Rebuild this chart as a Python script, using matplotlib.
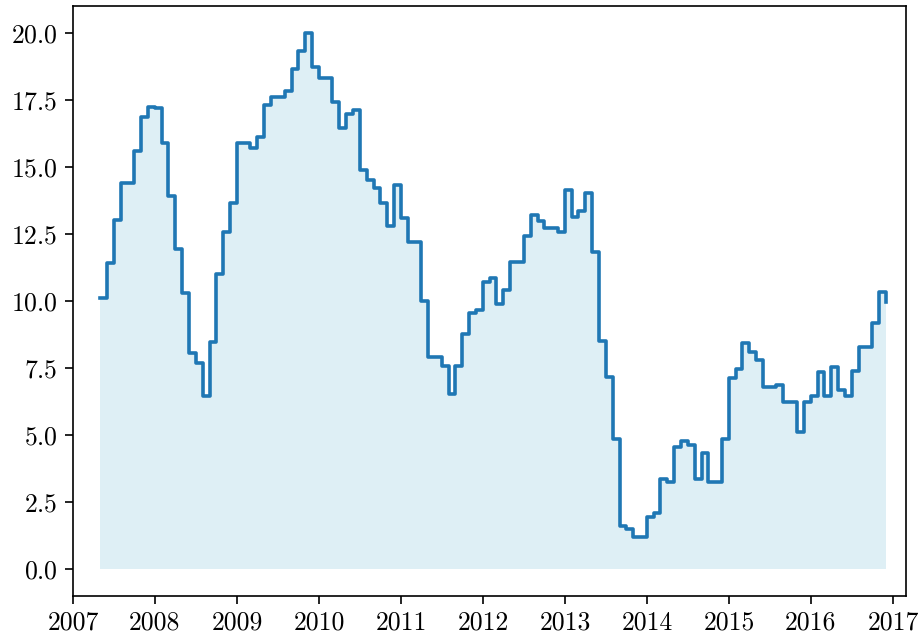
import numpy as np
import pandas as pd
import matplotlib
matplotlib.use("Agg")
import matplotlib.pyplot as plt
import matplotlib.dates as mdates
from datetime import datetime

plt.rcParams['font.family'] = 'serif'
plt.rcParams['font.serif'] = ['cmr10']
plt.rcParams['axes.formatter.use_mathtext'] = True
plt.rcParams['font.size'] = 18.5

# monthly values, May 2007 - Dec 2016
start_month = '2007-05-01'
v2007 = [10.11, 11.40, 13.01, 14.39, 14.39, 15.60, 16.87, 17.24]
v2008 = [17.20, 15.87, 13.92, 11.93, 10.30, 8.04, 7.69, 6.44, 8.45, 11.00, 12.55, 13.66]
v2009 = [15.87, 15.87, 15.69, 16.12, 17.30, 17.61, 17.61, 17.82, 18.65, 19.33, 20.00, 18.73]
v2010 = [18.30, 18.30, 17.43, 16.43, 16.97, 17.12, 14.88, 14.50, 14.19, 13.63, 12.79, 14.32]
v2011 = [13.10, 12.20, 12.20, 9.99, 7.91, 7.91, 7.56, 6.52, 7.56, 8.75, 9.53, 9.64]
v2012 = [10.71, 10.86, 9.87, 10.40, 11.46, 11.46, 12.41, 13.20, 12.99, 12.71, 12.71, 12.58]
v2013 = [14.13, 13.13, 13.35, 14.01, 11.81, 8.50, 7.16, 4.83, 1.61, 1.47, 1.19, 1.19]
v2014 = [1.94, 2.09, 3.34, 3.24, 4.53, 4.75, 4.63, 3.36, 4.32, 3.24, 3.24, 4.85]
v2015 = [7.13, 7.44, 8.41, 8.10, 7.79, 6.77, 6.77, 6.84, 6.23, 6.23, 5.10, 6.21]
v2016 = [6.44, 7.35, 6.44, 7.51, 6.67, 6.44, 7.38, 8.28, 8.28, 9.18, 10.31, 9.94]

values = np.array(v2007 + v2008 + v2009 + v2010 + v2011 + v2012 +
                  v2013 + v2014 + v2015 + v2016)
dates = pd.date_range(start_month, periods=len(values), freq='MS')

fig = plt.figure(figsize=(9.22, 6.44), dpi=100)
ax = fig.add_axes([73 / 922, 48.5 / 644, 833 / 922, 589.6 / 644])

ax.fill_between(dates, values, 0, step='post', color='lightblue', alpha=0.4, linewidth=0)
ax.step(dates, values, where='post', color='#1f77b4', linewidth=2.6)

ax.xaxis.set_major_locator(mdates.YearLocator())
ax.xaxis.set_major_formatter(mdates.DateFormatter('%Y'))
ax.set_xlim(datetime(2007, 1, 1), datetime(2017, 2, 28))
ax.set_ylim(-1, 21)
ax.set_yticks(np.arange(0, 20.1, 2.5))

for s in ax.spines.values():
    s.set_linewidth(1.2)
ax.tick_params(width=1.2, length=6, pad=5)

fig.savefig('out.png', dpi=100)
